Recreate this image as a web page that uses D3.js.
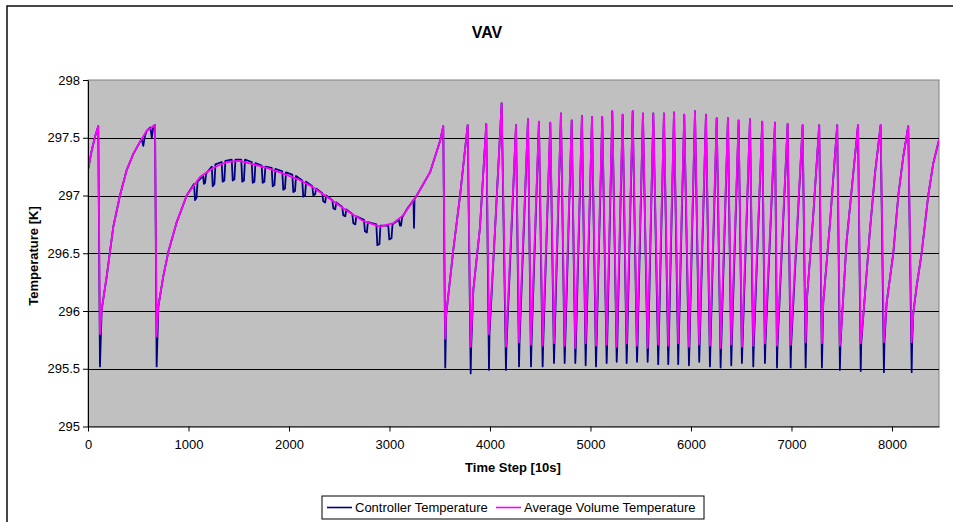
<!DOCTYPE html>
<html>
<head>
<meta charset="utf-8">
<script src="https://cdn.jsdelivr.net/npm/d3@7"></script>
<style>
  body { margin: 0; background: #fff; }
  svg text { font-family: "Liberation Sans", Arial, sans-serif; }
</style>
</head>
<body>
<svg id="chart" width="953" height="522"></svg>
<script>
// ---- chart text ----
const chartTitle = "VAV";
const xTitle = "Time Step [10s]";
const yTitle = "Temperature [K]";
const seriesNames = ["Controller Temperature", "Average Volume Temperature"];
const seriesColors = ["#000080", "#FF00FF"];

// ---- axis ticks ----
const xTicks = [0, 1000, 2000, 3000, 4000, 5000, 6000, 7000, 8000];
const yTicks = [295, 295.5, 296, 296.5, 297, 297.5, 298];
const xMax = 8468;

// ---- warm-up and slow drift: [time step, K] ----
const avgWarmup = [
  [0, 297.22], [37, 297.39], [70, 297.51], [102, 297.60], [119, 295.80],
  [136, 296.01], [186, 296.30], [252, 296.73], [318, 297.00], [385, 297.22],
  [451, 297.36], [534, 297.49], [584, 297.56], [667, 297.61], [683, 295.78],
  [700, 296.04], [749, 296.30], [799, 296.51], [883, 296.77], [982, 297.00],
  [1114, 297.16], [1247, 297.24], [1380, 297.29], [1512, 297.30], [1645, 297.27],
  [1778, 297.24], [1910, 297.20], [2092, 297.14], [2242, 297.07], [2408, 296.97],
  [2574, 296.87], [2739, 296.78], [2905, 296.73], [3038, 296.76], [3137, 296.83],
  [3271, 297.00], [3403, 297.20], [3502, 297.47]
];

const ctrlWarmup = [
  [0, 297.22], [37, 297.39], [70, 297.51], [102, 297.60], [119, 295.52],
  [136, 296.01], [186, 296.30], [252, 296.73], [318, 297.00], [385, 297.22],
  [451, 297.36], [534, 297.49], [550, 297.43], [565, 297.51], [584, 297.56],
  [620, 297.59], [635, 297.50], [650, 297.60], [667, 297.61], [683, 295.52],
  [700, 296.04], [749, 296.30], [799, 296.51], [883, 296.77], [982, 297.00],
  // controller dips while the zone drifts
  [1055, 297.10], [1065, 296.96], [1080, 296.98], [1090, 297.12],
  [1145, 297.17], [1154, 297.10], [1165, 297.11], [1175, 297.19],
  [1232, 297.25], [1241, 297.08], [1258, 297.10], [1268, 297.27],
  [1330, 297.29], [1340, 297.12], [1357, 297.13], [1367, 297.30],
  [1430, 297.31], [1440, 297.13], [1457, 297.14], [1467, 297.31],
  [1525, 297.31], [1535, 297.12], [1552, 297.13], [1562, 297.31],
  [1629, 297.29], [1639, 297.11], [1656, 297.12], [1666, 297.28],
  [1728, 297.26], [1738, 297.11], [1755, 297.12], [1765, 297.25],
  [1828, 297.24], [1838, 297.08], [1855, 297.09], [1865, 297.23],
  [1933, 297.21], [1943, 297.05], [1960, 297.06], [1970, 297.20],
  [2033, 297.18], [2043, 297.03], [2060, 297.04], [2070, 297.17],
  [2132, 297.13], [2142, 296.99], [2160, 297.00], [2170, 297.12],
  [2232, 297.08], [2242, 297.00], [2260, 297.01], [2270, 297.06],
  [2331, 297.02], [2341, 296.95], [2360, 296.94], [2370, 297.00],
  [2431, 296.96], [2441, 296.89], [2460, 296.88], [2470, 296.94],
  [2530, 296.90], [2540, 296.83], [2560, 296.82], [2570, 296.88],
  [2630, 296.84], [2640, 296.76], [2660, 296.75], [2670, 296.82],
  [2746, 296.79], [2756, 296.69], [2775, 296.68], [2785, 296.77],
  [2869, 296.75], [2879, 296.57], [2900, 296.58], [2910, 296.74],
  [2988, 296.74], [2998, 296.62], [3020, 296.63], [3030, 296.75],
  [3094, 296.79], [3104, 296.74], [3115, 296.74], [3125, 296.81],
  [3180, 296.89], [3239, 296.96], [3244, 296.72], [3249, 296.97],
  [3271, 297.00], [3403, 297.20], [3502, 297.47]
];

// ---- on/off cycling: peaks and troughs ----
const peakStep = [3535, 3778, 3963, 4116, 4259, 4378, 4487, 4600, 4706, 4813,
  4915, 5015, 5117, 5217, 5320, 5420, 5522, 5625, 5731, 5831,
  5933, 6040, 6149, 6256, 6368, 6474, 6587, 6709, 6836, 6962,
  7111, 7276, 7455, 7662, 7887, 8162];
const peakTemp = [297.60, 297.61, 297.62, 297.80, 297.61, 297.66, 297.64, 297.63, 297.71, 297.65,
  297.69, 297.68, 297.68, 297.73, 297.70, 297.73, 297.71, 297.71, 297.71, 297.72,
  297.70, 297.73, 297.70, 297.67, 297.67, 297.65, 297.66, 297.64, 297.63, 297.62,
  297.61, 297.61, 297.61, 297.61, 297.61, 297.60];
const troughStep = [3555, 3808, 3990, 4159, 4289, 4408, 4524, 4637, 4743, 4849,
  4952, 5055, 5161, 5261, 5360, 5463, 5569, 5674, 5774, 5873,
  5980, 6082, 6189, 6295, 6401, 6507, 6620, 6736, 6856, 6992,
  7141, 7303, 7482, 7689, 7920, 8196];
const ctrlTroughTemp = [295.51, 295.46, 295.49, 295.49, 295.52, 295.52, 295.52, 295.55, 295.55, 295.55,
  295.53, 295.52, 295.55, 295.56, 295.55, 295.56, 295.56, 295.54, 295.54, 295.54,
  295.53, 295.56, 295.52, 295.51, 295.53, 295.55, 295.52, 295.55, 295.51, 295.51,
  295.51, 295.51, 295.49, 295.48, 295.47, 295.47];
const avgTroughTemp = [295.76, 295.69, 295.80, 295.69, 295.73, 295.71, 295.70, 295.72, 295.70, 295.68,
  295.72, 295.70, 295.71, 295.69, 295.72, 295.70, 295.68, 295.71, 295.70, 295.72,
  295.69, 295.71, 295.70, 295.68, 295.71, 295.69, 295.70, 295.72, 295.70, 295.71,
  295.73, 295.72, 295.70, 295.72, 295.73, 295.73];

// recovery ramps between a trough and the next peak (shared by both series)
const rampPoints = [
  [3562, 295.95], [3635, 296.53], [3701, 296.99],
  [3834, 296.18], [3900, 296.72], [4050, 296.70],
  [7156, 296.13], [7216, 296.82], [7316, 296.07], [7383, 296.76],
  [7499, 295.89], [7549, 296.61], [7599, 297.05],
  [7714, 295.95], [7781, 296.70], [7831, 297.19],
  [7947, 296.07], [8013, 296.50], [8063, 297.00], [8113, 297.34],
  [8212, 295.98], [8245, 296.21], [8295, 296.50], [8361, 297.00], [8411, 297.28],
  [8468, 297.48]
];

// ---- assemble each series ----
const peaks = peakStep.map((t, i) => [t, peakTemp[i]]);
const avgSeries = avgWarmup
  .concat(peaks)
  .concat(troughStep.map((t, i) => [t, avgTroughTemp[i]]))
  .concat(rampPoints)
  .sort((a, b) => a[0] - b[0]);
// the controller dips below the volume average and rejoins it one sample later
const ctrlSeries = ctrlWarmup
  .concat(peaks)
  .concat(troughStep.map((t, i) => [t, ctrlTroughTemp[i]]))
  .concat(troughStep.map((t, i) => [t + 5, avgTroughTemp[i]]))
  .concat(rampPoints)
  .sort((a, b) => a[0] - b[0]);

// ---- layout ----
const svg = d3.select("#chart");
const plot = { left: 88, right: 939, top: 80, bottom: 426.5 };

const x = d3.scaleLinear().domain([0, xMax]).range([plot.left, plot.right]);
const y = d3.scaleLinear().domain([295, 298]).range([plot.bottom, plot.top]);

// outer chart frame
svg.append("rect")
  .attr("x", 7).attr("y", 6).attr("width", 1000).attr("height", 600)
  .attr("fill", "#fff").attr("stroke", "#1a1a1a").attr("stroke-width", 1.6);

// title
svg.append("text")
  .attr("x", 487).attr("y", 38)
  .attr("text-anchor", "middle")
  .attr("font-size", 16).attr("font-weight", "bold")
  .text(chartTitle);

// plot background
svg.append("rect")
  .attr("x", plot.left).attr("y", plot.top)
  .attr("width", plot.right - plot.left).attr("height", plot.bottom - plot.top)
  .attr("fill", "#C0C0C0").attr("stroke", "#808080").attr("stroke-width", 1);

// horizontal gridlines
svg.append("g")
  .selectAll("line")
  .data(yTicks.filter(v => v > 295 && v < 298))
  .join("line")
  .attr("x1", plot.left).attr("x2", plot.right)
  .attr("y1", d => Math.round(y(d)) + 0.5).attr("y2", d => Math.round(y(d)) + 0.5)
  .attr("stroke", "#000").attr("stroke-width", 1);

// series
svg.append("clipPath").attr("id", "plotClip")
  .append("rect")
  .attr("x", plot.left).attr("y", plot.top)
  .attr("width", plot.right - plot.left).attr("height", plot.bottom - plot.top);

const line = d3.line().x(d => x(d[0])).y(d => y(d[1]));
const seriesG = svg.append("g").attr("clip-path", "url(#plotClip)");
[ctrlSeries, avgSeries].forEach((s, i) => {
  seriesG.append("path")
    .datum(s)
    .attr("d", line)
    .attr("fill", "none")
    .attr("stroke", seriesColors[i])
    .attr("stroke-width", 1.8)
    .attr("stroke-linejoin", "round");
});

// axes
const yAxis = svg.append("g")
  .attr("transform", `translate(${plot.left},0)`)
  .call(d3.axisLeft(y).tickValues(yTicks).tickSize(5).tickSizeOuter(0).tickPadding(3)
    .tickFormat(d3.format("")));
const xAxis = svg.append("g")
  .attr("transform", `translate(0,${plot.bottom})`)
  .call(d3.axisBottom(x).tickValues(xTicks).tickSize(5).tickSizeOuter(0).tickPadding(8)
    .tickFormat(d3.format("d")));
[xAxis, yAxis].forEach(g => {
  g.selectAll("path, line").attr("stroke", "#000");
  g.selectAll("text").attr("font-size", 13).attr("fill", "#000")
    .attr("font-family", "'Liberation Sans', Arial, sans-serif");
});

// axis titles
svg.append("text")
  .attr("x", 513).attr("y", 472)
  .attr("text-anchor", "middle")
  .attr("font-size", 13).attr("font-weight", "bold")
  .text(xTitle);
svg.append("text")
  .attr("transform", "translate(38,256) rotate(-90)")
  .attr("text-anchor", "middle")
  .attr("font-size", 13).attr("font-weight", "bold")
  .text(yTitle);

// legend
const legend = svg.append("g");
legend.append("rect")
  .attr("x", 322).attr("y", 496).attr("width", 382).attr("height", 23)
  .attr("fill", "#fff").attr("stroke", "#000").attr("stroke-width", 1);
const legendX = [327, 496];
seriesNames.forEach((name, i) => {
  legend.append("line")
    .attr("x1", legendX[i]).attr("x2", legendX[i] + 25)
    .attr("y1", 507.5).attr("y2", 507.5)
    .attr("stroke", seriesColors[i]).attr("stroke-width", 1.6);
  legend.append("text")
    .attr("x", legendX[i] + 28).attr("y", 512)
    .attr("font-size", 13)
    .text(name);
});
</script>
</body>
</html>
